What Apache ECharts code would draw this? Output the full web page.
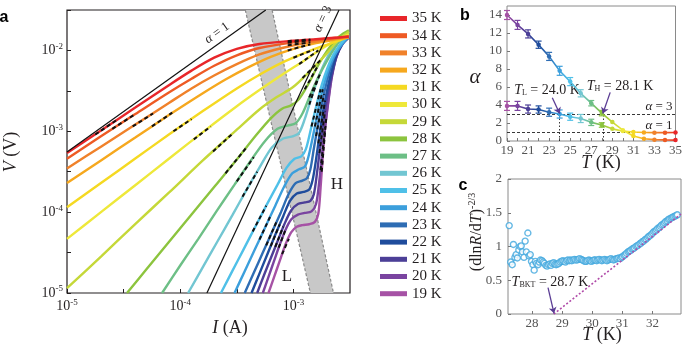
<!DOCTYPE html>
<html>
<head>
<meta charset="utf-8">
<script src="https://cdn.jsdelivr.net/npm/echarts@6/dist/echarts.min.js"></script>
<style>
  html, body { margin: 0; background: #fff; }
  #chart { width: 685px; height: 346px; }
</style>
</head>
<body>
<div id="chart"></div>
<script>
'use strict';

// ---- fonts / ink ----
const SERIF = '"Liberation Serif", "Times New Roman", serif';
const SANS = '"Liberation Sans", Arial, sans-serif';
const INK = '#231f20';
const GREY = '#555';

// ---- temperatures and colours (legend order) ----
const temps = [35, 34, 33, 32, 31, 30, 29, 28, 27, 26, 25, 24, 23, 22, 21, 20, 19];
const tempColors = ['#e8262a', '#ee5a24', '#f0812a', '#f6a81e', '#f5d922', '#eee83a', '#c5d838', '#8cc43e',
  '#6dbf86', '#72c6d2', '#4fc0e8', '#3c9fdc', '#2e6db4', '#1f4c9c', '#4c3f97', '#7a44a0', '#a652a5'];
const colorOf = t => tempColors[temps.indexOf(t)];

// ---- a: V-I curves, each point is [log10 I (A), log10 V (V)] ----
const iv35 = [[-5, -3.27], [-4.7, -2.99], [-4.4, -2.71], [-4.1, -2.43], [-3.9, -2.25], [-3.7, -2.09], [-3.5, -1.98], [-3.3, -1.92], [-3.0, -1.88], [-2.8, -1.86], [-2.6, -1.84], [-2.51, -1.83]];
const iv34 = [[-5, -3.34], [-4.7, -3.06], [-4.4, -2.79], [-4.1, -2.52], [-3.9, -2.35], [-3.7, -2.19], [-3.5, -2.06], [-3.3, -1.97], [-3.0, -1.9], [-2.8, -1.87], [-2.6, -1.84], [-2.51, -1.825]];
const iv33 = [[-5, -3.46], [-4.7, -3.19], [-4.4, -2.92], [-4.1, -2.65], [-3.9, -2.47], [-3.7, -2.31], [-3.5, -2.17], [-3.3, -2.05], [-3.1, -1.97], [-2.9, -1.91], [-2.7, -1.87], [-2.51, -1.83]];
const iv32 = [[-5, -3.64], [-4.7, -3.36], [-4.4, -3.08], [-4.1, -2.8], [-3.8, -2.53], [-3.6, -2.36], [-3.4, -2.21], [-3.2, -2.08], [-3.0, -1.98], [-2.8, -1.91], [-2.6, -1.86], [-2.51, -1.84]];
const iv31 = [[-5, -3.94], [-4.7, -3.64], [-4.4, -3.34], [-4.1, -3.04], [-3.8, -2.75], [-3.5, -2.47], [-3.3, -2.3], [-3.1, -2.15], [-2.9, -2.03], [-2.75, -1.95], [-2.6, -1.88], [-2.51, -1.83]];
const iv30 = [[-5, -4.33], [-4.7, -4.0], [-4.4, -3.67], [-4.1, -3.34], [-3.8, -3.01], [-3.5, -2.69], [-3.3, -2.49], [-3.1, -2.3], [-2.9, -2.12], [-2.75, -1.98], [-2.62, -1.87], [-2.51, -1.8]];
const iv29 = [[-5, -4.94], [-4.7, -4.55], [-4.4, -4.15], [-4.1, -3.76], [-3.8, -3.36], [-3.5, -2.98], [-3.3, -2.73], [-3.15, -2.58], [-3.0, -2.45], [-2.85, -2.25], [-2.7, -2.03], [-2.6, -1.87], [-2.51, -1.77]];
const iv28 = [[-4.47, -5], [-4.3, -4.71], [-4.1, -4.37], [-3.9, -4.03], [-3.7, -3.69], [-3.5, -3.35], [-3.33, -3.05], [-3.2, -2.84], [-3.1, -2.72], [-3.02, -2.68], [-2.95, -2.6], [-2.87, -2.42], [-2.78, -2.18], [-2.7, -2.0], [-2.62, -1.86], [-2.56, -1.79], [-2.51, -1.75]];
const iv27 = [[-4.16, -5], [-4.0, -4.66], [-3.84, -4.33], [-3.68, -3.99], [-3.52, -3.66], [-3.38, -3.37], [-3.25, -3.12], [-3.14, -2.97], [-3.05, -2.93], [-2.98, -2.9], [-2.92, -2.78], [-2.85, -2.55], [-2.78, -2.33], [-2.7, -2.12], [-2.63, -1.96], [-2.57, -1.85], [-2.51, -1.77]];
const iv26 = [[-3.93, -5], [-3.8, -4.68], [-3.67, -4.36], [-3.54, -4.04], [-3.42, -3.74], [-3.3, -3.45], [-3.19, -3.2], [-3.09, -3.09], [-3.0, -3.06], [-2.95, -3.02], [-2.9, -2.85], [-2.84, -2.58], [-2.78, -2.34], [-2.72, -2.14], [-2.66, -1.99], [-2.6, -1.89], [-2.55, -1.83], [-2.51, -1.8]];
const iv25 = [[-3.64, -5], [-3.54, -4.73], [-3.44, -4.46], [-3.34, -4.19], [-3.24, -3.92], [-3.14, -3.66], [-3.06, -3.45], [-2.99, -3.34], [-2.93, -3.31], [-2.89, -3.22], [-2.85, -3.0], [-2.8, -2.7], [-2.75, -2.43], [-2.7, -2.22], [-2.65, -2.06], [-2.6, -1.95], [-2.55, -1.87], [-2.51, -1.82]];
const iv24 = [[-3.52, -5], [-3.43, -4.73], [-3.34, -4.46], [-3.25, -4.19], [-3.16, -3.92], [-3.08, -3.68], [-3.01, -3.52], [-2.95, -3.47], [-2.9, -3.44], [-2.87, -3.33], [-2.83, -3.08], [-2.79, -2.8], [-2.75, -2.53], [-2.7, -2.28], [-2.65, -2.1], [-2.6, -1.98], [-2.55, -1.89], [-2.51, -1.83]];
const iv23 = [[-3.43, -5], [-3.35, -4.75], [-3.27, -4.5], [-3.19, -4.25], [-3.11, -4.0], [-3.04, -3.77], [-2.98, -3.64], [-2.92, -3.61], [-2.88, -3.58], [-2.85, -3.47], [-2.82, -3.22], [-2.78, -2.9], [-2.74, -2.6], [-2.7, -2.36], [-2.66, -2.16], [-2.62, -2.02], [-2.57, -1.9], [-2.51, -1.83]];
const iv22 = [[-3.37, -5], [-3.3, -4.76], [-3.23, -4.52], [-3.16, -4.28], [-3.09, -4.05], [-3.03, -3.86], [-2.97, -3.77], [-2.91, -3.75], [-2.86, -3.72], [-2.83, -3.6], [-2.8, -3.35], [-2.77, -3.05], [-2.74, -2.77], [-2.7, -2.48], [-2.66, -2.24], [-2.62, -2.06], [-2.57, -1.92], [-2.51, -1.835]];
const iv21 = [[-3.32, -5], [-3.26, -4.78], [-3.2, -4.57], [-3.14, -4.36], [-3.08, -4.15], [-3.02, -3.98], [-2.96, -3.9], [-2.9, -3.88], [-2.85, -3.86], [-2.82, -3.78], [-2.79, -3.5], [-2.76, -3.15], [-2.73, -2.84], [-2.7, -2.56], [-2.66, -2.3], [-2.62, -2.08], [-2.57, -1.93], [-2.51, -1.835]];
const iv20 = [[-3.27, -5], [-3.22, -4.8], [-3.17, -4.6], [-3.12, -4.4], [-3.07, -4.22], [-3.02, -4.09], [-2.96, -4.03], [-2.9, -4.01], [-2.84, -3.99], [-2.8, -3.9], [-2.77, -3.6], [-2.745, -3.25], [-2.72, -2.95], [-2.69, -2.62], [-2.66, -2.33], [-2.62, -2.08], [-2.57, -1.92], [-2.51, -1.835]];
const iv19 = [[-3.22, -5], [-3.17, -4.8], [-3.12, -4.6], [-3.07, -4.4], [-3.02, -4.25], [-2.97, -4.18], [-2.92, -4.16], [-2.86, -4.15], [-2.81, -4.12], [-2.78, -4.02], [-2.76, -3.7], [-2.74, -3.3], [-2.72, -2.95], [-2.69, -2.6], [-2.66, -2.3], [-2.62, -2.07], [-2.57, -1.92], [-2.51, -1.84]];
const ivCurves = [iv35, iv34, iv33, iv32, iv31, iv30, iv29, iv28, iv27, iv26, iv25, iv24, iv23, iv22, iv21, iv20, iv19];

// guide lines (slope 1 and 3) and the grey L/H crossover band
const alphaOneLine = [[-5, -3.256], [-3.244, -1.5]];
const alphaThreeLine = [[-3.764, -5], [-2.597, -1.5]];
const bandLeftEdge = [[-3.425, -1.5], [-2.85, -5]];
const bandRightEdge = [[-3.188, -1.5], [-2.646, -5]];

// dashed power-law fits (low-current L and high-current H regimes)
const fitsLow = [
  [[-4.75, -3.04], [-4.55, -2.85]], [[-4.6, -2.97], [-4.4, -2.79]], [[-4.42, -2.94], [-4.24, -2.78]],
  [[-4.25, -2.94], [-4.07, -2.77]], [[-4.06, -3.0], [-3.9, -2.85]], [[-3.88, -3.1], [-3.73, -2.94]],
  [[-3.71, -3.25], [-3.53, -3.02]], [[-3.6, -3.52], [-3.42, -3.21]], [[-3.5, -3.62], [-3.35, -3.32]],
  [[-3.45, -3.81], [-3.32, -3.5]], [[-3.36, -4.24], [-3.24, -3.92]], [[-3.3, -4.34], [-3.2, -4.04]],
  [[-3.24, -4.41], [-3.15, -4.12]], [[-3.2, -4.42], [-3.12, -4.15]], [[-3.16, -4.43], [-3.09, -4.18]],
  [[-3.13, -4.44], [-3.07, -4.22]], [[-3.1, -4.52], [-3.04, -4.33]]
];
const fitsHigh = [
  [[-3.05, -1.885], [-2.85, -1.865]], [[-3.05, -1.905], [-2.85, -1.875]], [[-3.05, -1.935], [-2.85, -1.9]],
  [[-3.05, -2.0], [-2.85, -1.925]], [[-3.0, -2.09], [-2.82, -1.99]], [[-2.95, -2.17], [-2.78, -2.0]],
  [[-2.92, -2.34], [-2.76, -2.12]], [[-2.9, -2.48], [-2.78, -2.18]], [[-2.86, -2.58], [-2.76, -2.28]],
  [[-2.86, -2.67], [-2.78, -2.34]], [[-2.84, -2.94], [-2.76, -2.48]], [[-2.81, -2.94], [-2.74, -2.48]],
  [[-2.8, -3.06], [-2.73, -2.54]], [[-2.78, -3.15], [-2.72, -2.62]], [[-2.77, -3.27], [-2.72, -2.75]],
  [[-2.76, -3.48], [-2.72, -2.95]], [[-2.75, -3.5], [-2.71, -2.83]]
];

// ---- b: exponent alpha vs T ----
const bT = [19, 20, 21, 22, 23, 24, 25, 26, 27, 28, 29, 30, 31, 32, 33, 34, 35];
const bTickLabels = [19, 21, 23, 25, 27, 29, 31, 33, 35];
const alphaHigh = [14.0, 12.9, 11.9, 10.7, 9.4, 7.8, 6.6, 5.3, 4.2, 3.1, 2.1, 1.2, 0.55, 0.25, 0.15, 0.12, 0.1];
const alphaHighErr = [0.5, 0.5, 0.45, 0.4, 0.45, 0.5, 0.45, 0.4, 0.3, 0.3, 0, 0, 0, 0, 0, 0, 0];
const alphaLow = [3.9, 3.9, 3.55, 3.5, 3.2, 3.0, 2.7, 2.5, 2.07, 1.78, 1.35, 1.1, 1.0, 0.95, 0.93, 0.93, 0.95];
const alphaLowErr = [0.5, 0.5, 0.45, 0.4, 0.45, 0.45, 0.4, 0.45, 0.35, 0.25, 0, 0, 0, 0, 0, 0, 0];
const alphaLevels = [3, 1];
const tLow = 24.0;
const tHigh = 28.1;

// ---- c: (dlnR/dT)^(-2/3) vs T ----
const bktPoints = [
  [27.18, 0.68], [27.24, 1.31], [27.29, 0.77], [27.34, 0.73], [27.38, 1.03], [27.43, 0.84], [27.47, 0.88],
  [27.51, 0.83], [27.56, 0.95], [27.6, 1.0], [27.64, 1.01], [27.68, 0.92], [27.73, 0.84], [27.77, 1.08],
  [27.81, 0.92], [27.86, 1.2], [27.9, 0.86], [27.94, 0.88], [27.98, 0.78], [28.03, 0.73], [28.07, 0.65],
  [28.11, 0.78], [28.15, 0.75], [28.2, 0.73], [28.24, 0.77], [28.28, 0.8], [28.33, 0.79], [28.37, 0.77],
  [28.41, 0.75], [28.46, 0.72], [28.5, 0.71], [28.54, 0.73], [28.59, 0.74], [28.63, 0.72], [28.67, 0.75],
  [28.72, 0.76], [28.76, 0.74], [28.8, 0.73], [28.85, 0.74], [28.89, 0.75], [28.93, 0.77], [28.98, 0.78],
  [29.02, 0.79], [29.06, 0.78], [29.11, 0.77], [29.15, 0.79], [29.19, 0.8], [29.24, 0.79], [29.28, 0.8],
  [29.32, 0.79], [29.37, 0.8], [29.41, 0.81], [29.45, 0.8], [29.5, 0.8], [29.54, 0.81], [29.58, 0.82],
  [29.63, 0.81], [29.67, 0.8], [29.71, 0.79], [29.76, 0.78], [29.8, 0.78], [29.84, 0.79], [29.89, 0.8],
  [29.93, 0.79], [29.97, 0.78], [30.02, 0.79], [30.06, 0.8], [30.1, 0.8], [30.15, 0.79], [30.19, 0.8],
  [30.23, 0.81], [30.28, 0.8], [30.32, 0.79], [30.36, 0.8], [30.41, 0.81], [30.45, 0.8], [30.49, 0.79],
  [30.54, 0.8], [30.58, 0.81], [30.62, 0.82], [30.67, 0.81], [30.71, 0.8], [30.75, 0.81], [30.8, 0.82],
  [30.84, 0.82], [30.88, 0.83], [30.93, 0.82], [30.97, 0.84], [31.01, 0.85], [31.06, 0.87], [31.1, 0.88],
  [31.14, 0.9], [31.19, 0.92], [31.23, 0.93], [31.27, 0.94], [31.32, 0.96], [31.36, 0.97], [31.4, 0.98],
  [31.45, 1.0], [31.49, 1.01], [31.53, 1.02], [31.58, 1.04], [31.62, 1.05], [31.66, 1.07], [31.71, 1.08],
  [31.75, 1.1], [31.79, 1.11], [31.84, 1.13], [31.88, 1.15], [31.92, 1.16], [31.97, 1.18], [32.01, 1.2],
  [32.05, 1.22], [32.1, 1.23], [32.14, 1.25], [32.18, 1.27], [32.23, 1.28], [32.27, 1.3], [32.31, 1.32],
  [32.36, 1.33], [32.4, 1.35], [32.44, 1.37], [32.49, 1.38], [32.53, 1.4], [32.57, 1.41], [32.62, 1.42],
  [32.66, 1.43], [32.7, 1.44], [32.75, 1.45], [32.79, 1.46], [32.83, 1.47]
];
const cTicks = [28, 29, 30, 31, 32];
const bktFit = [[28.72, 0], [32.95, 1.48]];
const tBkt = 28.7;

// ---- text helpers ----
function richSet(size, color) {
  const c = color || INK;
  return {
    i: { fontFamily: SERIF, fontStyle: 'italic', fontSize: size, fill: c, color: c },
    r: { fontFamily: SERIF, fontSize: size, fill: c, color: c },
    s: { fontFamily: SERIF, fontSize: Math.round(size * 0.6), fill: c, color: c, padding: [Math.round(size * 0.45), 0, 0, 0] },
    u: { fontFamily: SERIF, fontSize: Math.round(size * 0.62), fill: c, color: c, padding: [0, 0, Math.round(size * 0.55), 0] },
  };
}
const txt = (x, y, text, size, extra) => ({
  type: 'text', x, y, silent: true, ...(extra || {}),
  style: { text, fontFamily: SERIF, fontSize: size, fill: INK, align: 'center', verticalAlign: 'middle', rich: richSet(size) },
});
const letter = (x, y, text) => ({
  type: 'text', x, y, silent: true,
  style: { text, font: 'bold 16px ' + SANS, fill: '#000', align: 'center', verticalAlign: 'middle' },
});
const powLabel = v => `{b|10}{e|${v}}`;
const powRich = { b: { fontFamily: SERIF, fontSize: 14, color: INK }, e: { fontFamily: SERIF, fontSize: 9, color: INK, padding: [0, 0, 8, 0] } };
const tickTxt = { fontFamily: SERIF, fontSize: 13, color: GREY };

// ---- a: series ----
const aSeries = [];
aSeries.push({
  type: 'custom', xAxisIndex: 0, yAxisIndex: 0, z: 1, silent: true, data: [[0, 0]],
  renderItem: (p, api) => ({
    type: 'polygon',
    shape: { points: bandLeftEdge.concat(bandRightEdge.slice().reverse()).map(pt => api.coord(pt)) },
    style: { fill: '#c8c8c8' },
  }),
});
[bandLeftEdge, bandRightEdge].forEach(edge => aSeries.push({
  type: 'line', xAxisIndex: 0, yAxisIndex: 0, z: 1, silent: true, symbol: 'none', data: edge,
  lineStyle: { color: '#8a8a8a', width: 1.2, type: [3, 2] },
}));
// lowest temperature first so the warm curves sit on top
temps.slice().reverse().forEach(t => {
  const i = temps.indexOf(t);
  aSeries.push({
    name: t + ' K', type: 'line', xAxisIndex: 0, yAxisIndex: 0, z: 2, symbol: 'none', smooth: 0.3,
    data: ivCurves[i], color: tempColors[i], itemStyle: { color: tempColors[i] },
    lineStyle: { color: tempColors[i], width: 2.4 },
  });
});
[alphaOneLine, alphaThreeLine].forEach(l => aSeries.push({
  type: 'line', xAxisIndex: 0, yAxisIndex: 0, z: 3, silent: true, symbol: 'none', data: l,
  lineStyle: { color: '#111', width: 1.2 },
}));
aSeries.push({
  type: 'lines', coordinateSystem: 'cartesian2d', xAxisIndex: 0, yAxisIndex: 0, z: 4, silent: true,
  data: fitsLow.concat(fitsHigh).map(c => ({ coords: c })),
  lineStyle: { color: '#111', width: 2, type: [4, 3], opacity: 1 },
});

// ---- b: series ----
const gradStops = bT.map(t => ({ offset: (t - 19) / 16, color: colorOf(t) }));
const bGrad = () => new echarts.graphic.LinearGradient(0, 0, 1, 0, gradStops);
const errBars = (vals, errs) => bT.map((t, i) => [t, vals[i] - errs[i], vals[i] + errs[i]]).filter((d, i) => errs[i] > 0);
const errSeries = data => ({
  type: 'custom', xAxisIndex: 1, yAxisIndex: 1, silent: true, z: 3, data,
  renderItem: (p, api) => {
    const t = api.value(0);
    const lo = api.coord([t, api.value(1)]), hi = api.coord([t, api.value(2)]);
    const st = { stroke: colorOf(t), lineWidth: 1.2 };
    return { type: 'group', children: [
      { type: 'line', shape: { x1: lo[0], y1: lo[1], x2: hi[0], y2: hi[1] }, style: st },
      { type: 'line', shape: { x1: lo[0] - 3, y1: lo[1], x2: lo[0] + 3, y2: lo[1] }, style: st },
      { type: 'line', shape: { x1: hi[0] - 3, y1: hi[1], x2: hi[0] + 3, y2: hi[1] }, style: st },
    ] };
  },
});
const alphaSeries = vals => ({
  type: 'line', xAxisIndex: 1, yAxisIndex: 1, z: 4, silent: true, symbol: 'circle', symbolSize: 4.5,
  data: bT.map((t, i) => ({ value: [t, vals[i]], itemStyle: { color: colorOf(t) } })),
  lineStyle: { width: 1.6, color: bGrad() },
});
const bSeries = [
  {
    type: 'lines', coordinateSystem: 'cartesian2d', xAxisIndex: 1, yAxisIndex: 1, z: 2, silent: true,
    data: alphaLevels.map(a => ({ coords: [[19, a], [35, a]] })),
    lineStyle: { color: '#222', width: 0.9, type: [3, 2], opacity: 1 },
  },
  {
    type: 'lines', coordinateSystem: 'cartesian2d', xAxisIndex: 1, yAxisIndex: 1, z: 2, silent: true,
    data: [tLow, tHigh].map(t => ({ coords: [[t, 0], [t, 3]] })),
    lineStyle: { color: '#222', width: 0.9, type: [1.5, 2], opacity: 1 },
  },
  errSeries(errBars(alphaHigh, alphaHighErr)),
  errSeries(errBars(alphaLow, alphaLowErr)),
  alphaSeries(alphaHigh),
  alphaSeries(alphaLow),
  {
    type: 'lines', coordinateSystem: 'cartesian2d', xAxisIndex: 1, yAxisIndex: 1, z: 5, silent: true,
    symbol: ['none', 'arrow'], symbolSize: [0, 6],
    data: [{ coords: [[23.3, 4.8], [tLow, 3.05]] }, { coords: [[28.8, 5.4], [tHigh, 3.05]] }],
    lineStyle: { color: '#5b3d94', width: 1.3, opacity: 1 },
  },
];

// ---- c: series ----
const cSeries = [
  {
    type: 'scatter', xAxisIndex: 2, yAxisIndex: 2, z: 3, silent: true, symbol: 'circle', symbolSize: 6,
    data: bktPoints, itemStyle: { color: '#fff', borderColor: '#3ea6dd', borderWidth: 1.4 },
  },
  {
    type: 'lines', coordinateSystem: 'cartesian2d', xAxisIndex: 2, yAxisIndex: 2, z: 4, silent: true,
    data: [{ coords: bktFit }], lineStyle: { color: '#b04aa8', width: 1.6, type: [2, 2], opacity: 1 },
  },
  {
    type: 'lines', coordinateSystem: 'cartesian2d', xAxisIndex: 2, yAxisIndex: 2, z: 5, silent: true,
    symbol: ['none', 'arrow'], symbolSize: [0, 6],
    data: [{ coords: [[28.53, 0.39], [tBkt + 0.03, 0.01]] }],
    lineStyle: { color: '#5b3d94', width: 1.3, opacity: 1 },
  },
];

const frameA = { show: true, borderColor: INK, borderWidth: 1.2 };
const frameBC = { show: true, borderColor: '#8a8a8a', borderWidth: 1 };

const option = {
  animation: false,
  grid: [
    { left: 67, top: 10, width: 283, height: 283, ...frameA },
    { left: 507, top: 6, width: 171, height: 135, ...frameBC },
    { left: 508, top: 179, width: 173, height: 135, ...frameBC },
  ],
  xAxis: [
    {
      gridIndex: 0, type: 'value', min: -5, max: -2.5, splitLine: { show: false }, axisLine: { show: false },
      axisTick: { inside: true, length: 4, customValues: [-5, -4.5, -4, -3.5, -3], lineStyle: { color: INK } },
      axisLabel: { customValues: [-5, -4, -3], formatter: powLabel, rich: powRich, margin: 5 },
    },
    {
      gridIndex: 1, type: 'value', min: 19, max: 35, splitLine: { show: false }, axisLine: { show: false },
      axisTick: { inside: true, length: 3, customValues: bT, lineStyle: { color: '#777' } },
      axisLabel: { customValues: bTickLabels, margin: 3, ...tickTxt },
    },
    {
      gridIndex: 2, type: 'value', min: 27.2, max: 32.95, splitLine: { show: false }, axisLine: { show: false },
      axisTick: { inside: true, length: 3, customValues: cTicks, lineStyle: { color: '#777' } },
      axisLabel: { customValues: cTicks, margin: 3, ...tickTxt },
    },
  ],
  yAxis: [
    {
      gridIndex: 0, type: 'value', min: -5, max: -1.5, splitLine: { show: false }, axisLine: { show: false },
      axisTick: { inside: true, length: 4, customValues: [-5, -4.5, -4, -3.5, -3, -2.5, -2, -1.5], lineStyle: { color: INK } },
      axisLabel: { customValues: [-5, -4, -3, -2], formatter: powLabel, rich: powRich, margin: 4 },
    },
    {
      gridIndex: 1, type: 'value', min: 0, max: 15, splitLine: { show: false }, axisLine: { show: false },
      axisTick: { inside: true, length: 3, customValues: [0, 2, 4, 6, 8, 10, 12, 14], lineStyle: { color: '#777' } },
      axisLabel: { customValues: [0, 2, 4, 6, 8, 10, 12, 14], margin: 5, ...tickTxt },
    },
    {
      gridIndex: 2, type: 'value', min: 0, max: 2, interval: 0.5, splitLine: { show: false }, axisLine: { show: false },
      axisTick: { inside: true, length: 3, lineStyle: { color: '#777' } },
      axisLabel: { margin: 6, ...tickTxt },
    },
  ],
  legend: {
    orient: 'vertical', left: 375, top: 6, itemWidth: 27, itemHeight: 5, itemGap: 2.2, icon: 'rect',
    selectedMode: false, data: temps.map(t => t + ' K'),
    textStyle: { fontFamily: SERIF, fontSize: 15, color: INK },
  },
  graphic: [
    letter(4, 18, 'a'),
    letter(465, 16, 'b'),
    letter(463, 186, 'c'),
    // a
    txt(230, 328, '{i|I} (A)', 18),
    txt(11, 152, '{i|V} (V)', 18, { rotation: Math.PI / 2 }),
    txt(337, 185, 'H', 17),
    txt(287, 277, 'L', 17),
    txt(217, 33, '{i|α} = 1', 13, { rotation: Math.atan(80.9 / 113.2) }),
    txt(323, 19, '{i|α} = 3', 13, { rotation: Math.atan(3 * 80.9 / 113.2) }),
    // b
    txt(475, 77, '{i|α}', 21),
    txt(601, 163, '{i|T} (K)', 18),
    txt(547, 90, '{i|T}{s|L} = 24.0 K', 14),
    txt(620, 86, '{i|T}{s|H} = 28.1 K', 14),
    txt(659, 107, '{i|α} = 3', 13),
    txt(659, 126, '{i|α} = 1', 13),
    // c
    txt(477, 232, '(dln{i|R}/d{i|T}){u|-2/3}', 16, { rotation: Math.PI / 2 }),
    txt(602, 335, '{i|T} (K)', 18),
    txt(550, 282, '{i|T}{s|BKT} = 28.7 K', 14),
  ],
  series: aSeries.concat(bSeries, cSeries),
};

const chart = echarts.init(document.getElementById('chart'), null, { renderer: 'canvas' });
chart.setOption(option);
</script>
</body>
</html>
